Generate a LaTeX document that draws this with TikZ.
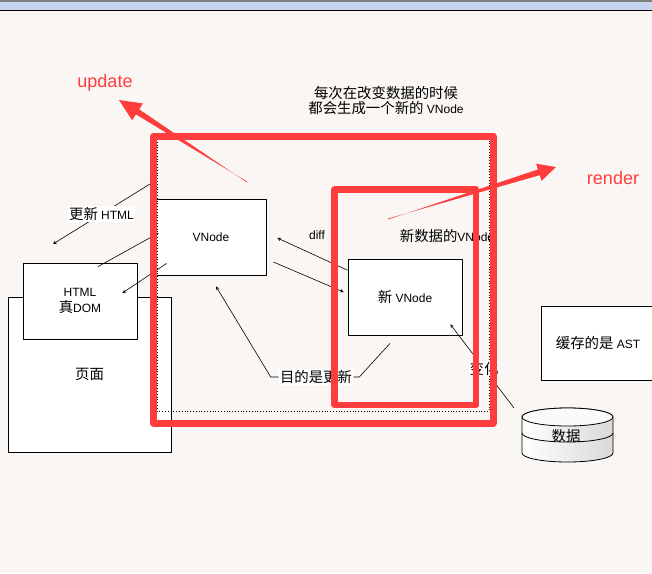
\documentclass[tikz,border=0pt]{standalone}
\usepackage{fontspec}
\setmainfont{Liberation Sans}
\newfontfamily\cjk[Scale=1.2]{Noto Sans CJK SC}
\usetikzlibrary{calc}
\definecolor{bgpaper}{HTML}{F9F6F3}
\definecolor{barblue}{HTML}{C6D3F1}
\definecolor{markred}{HTML}{FF3D3D}
% tapered red arrow: tail, tip, head length, head half width, shaft half width
\newcommand\markarrow[5]{%
	\coordinate (hb) at ($(#2)!#3!(#1)$);
	\fill[markred] ($(#1)!0.4pt!90:(#2)$) -- ($(hb)!#5!-90:(#2)$) -- ($(hb)!#4!-90:(#2)$)
		-- (#2) -- ($(hb)!#4!90:(#2)$) -- ($(hb)!#5!90:(#2)$) -- ($(#1)!0.4pt!-90:(#2)$) -- cycle;}
\begin{document}
\begin{tikzpicture}[x=1pt,y=-1pt,line join=round,>=stealth,line width=0.6pt]
	\tikzset{every node/.style={font=\fontsize{12}{15}\selectfont},
		box/.style={draw,fill=white,line width=0.8pt,minimum width=#1,inner sep=0pt},
		lbl/.style={fill=white,inner sep=1pt}}
	\useasboundingbox (0,0) rectangle (652,573);
	\fill[bgpaper] (0,0) rectangle (652,573);
	\fill[barblue] (0,0) rectangle (652,10);
	\fill[gray] (0,0) rectangle (652,1.5);
	\draw[line width=1.2pt] (0,10.5)--(652,10.5);
	% boxes
	\node[box=163pt,minimum height=155pt] (page) at (89.5,374.5) {\cjk 页面};
	\node[box=114pt,minimum height=76pt,align=center] (html) at (80,301) {HTML\\[1pt]{\cjk 真}DOM};
	\node[box=110pt,minimum height=76pt] (vnode) at (211,237) {VNode};
	\node[box=114pt,minimum height=76pt] (newv) at (405,297) {{\cjk 新} VNode};
	\node[box=114pt,minimum height=74pt] (ast) at (598,343) {{\cjk 缓存的是} AST};
	% data store
	\begin{scope}[shift={(567.5,417)}]
		\draw[left color=white,right color=gray!30,line width=0.8pt]
			(-45.5,0) -- (-45.5,36) arc[start angle=180,end angle=360,x radius=45.5,y radius=-9]
			-- (45.5,0) arc[start angle=0,end angle=180,x radius=45.5,y radius=-9];
		\draw[fill=white!60!gray!10,line width=0.8pt] (0,0) ellipse[x radius=45.5,y radius=9];
		\draw[line width=0.8pt] (-45.5,16) arc[start angle=180,end angle=360,x radius=45.5,y radius=-9];
		\node (db) at (-1.5,19) {\cjk 数据};
	\end{scope}
	% dotted frame
	\draw[dotted,line width=0.8pt] (157,139) rectangle (489,411);
	% texts
	\node[align=center] (note) at (386,101) {{\cjk 每次在改变数据的时候}\\{\cjk 都会生成一个新的} VNode};
	\node (newdata) at (447,236) {{\cjk 新数据的}VNode};
	\node (difflbl) at (317,235) {diff};
	% connectors
	\coordinate (updfrom) at (150,184);
	\coordinate (updto) at (53,244);
	\draw[->] (updfrom) -- (updto) node[midway,lbl] {{\cjk 更新} HTML};
	\draw[->] ($(html.north)+(18,4)$) -- ($(vnode.west)+(3,-4)$);
	\draw[->] ($(vnode.south west)+(11,-12)$) -- ($(html.east)+(-15,-8)$);
	\draw[->] (newv.155) -- ($(vnode.east)+(11,1)$);
	\draw[->] ($(vnode.east)+(7,25)$) -- ($(newv.west)+(-4,-5)$);
	\node[lbl] (goal) at (316,377) {\cjk 目的是更新};
	\draw[->] (goal.west) -- ++(-8,0) -- ($(vnode.south)+(5,11)$);
	\draw (goal.east) -- ++(6,0) -- ($(newv.south)+(-15,8)$);
	\draw[->] (514,408) -- ($(newv.south east)+(-12,-11)$) node[pos=0.47,lbl] {\cjk 变化};
	% red marks
	\draw[markred,line width=7pt] (153.5,136) rectangle (493,423);
	\draw[markred,line width=6.5pt] (334.5,189.5) rectangle (476,405);
	\coordinate (utail) at (247,182);
	\coordinate (utip) at (119,100);
	\markarrow{utail}{utip}{22pt}{10pt}{3pt}
	\coordinate (rtail) at (388,219);
	\coordinate (rtip) at (556,167);
	\markarrow{rtail}{rtip}{18pt}{9pt}{3pt}
	\node[text=markred,font=\fontsize{18}{20}\selectfont] (upd) at (105,83) {update};
	\node[text=markred,font=\fontsize{18}{20}\selectfont] (rnd) at (613,178) {render};
\end{tikzpicture}
\end{document}
